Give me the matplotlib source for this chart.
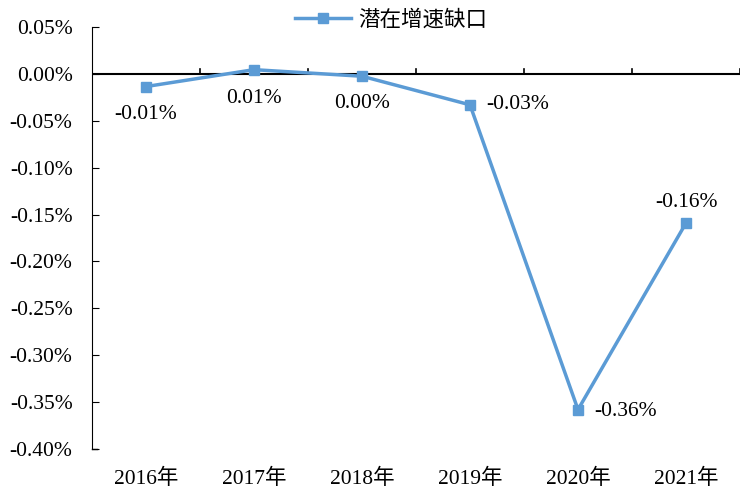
import matplotlib.pyplot as plt
from matplotlib.ticker import FuncFormatter

years = ['2016年', '2017年', '2018年', '2019年', '2020年', '2021年']
gap = [-0.0135, 0.0045, -0.0025, -0.033, -0.358, -0.159]
labels = ['-0.01%', '0.01%', '0.00%', '-0.03%', '-0.36%', '-0.16%']
# label placement: offset in points and alignment
offsets = [(0, -13, 'center', 'top'), (0, -14, 'center', 'top'), (0, -13, 'center', 'top'),
           (12, 0, 'left', 'center'), (12, -1, 'left', 'center'), (0, 8, 'center', 'bottom')]

serif = ['Liberation Serif', 'Noto Sans CJK SC']
color = '#5B9BD5'
fs = 15.5

fig = plt.figure(figsize=(7.52, 5.0), dpi=100)
ax = fig.add_axes([92 / 752, 51 / 500, 648 / 752, 422 / 500])

x = list(range(len(years)))
ax.plot(x, gap, color=color, lw=2.5, marker='s', ms=7, label='潜在增速缺口')
for i, (v, t) in enumerate(zip(gap, labels)):
    dx, dy, ha, va = offsets[i]
    ax.annotate(t, (i, v), xytext=(dx, dy), textcoords='offset points',
                ha=ha, va=va, fontsize=fs, family=serif)

ax.set_xlim(-0.5, 5.5)
ax.set_ylim(-0.40, 0.05)
ax.set_yticks([0.05 - 0.05 * k for k in range(10)])
ax.yaxis.set_major_formatter(FuncFormatter(lambda v, p: '%.2f%%' % v))
ax.tick_params(axis='y', direction='in', length=5, labelsize=fs, pad=14)
for lab in ax.get_yticklabels():
    lab.set_family(serif)

# x axis crosses at zero, labels at bottom
ax.spines['top'].set_visible(False)
ax.spines['right'].set_visible(False)
ax.spines['bottom'].set_visible(False)
ax.axhline(0, color='black', lw=1.5, zorder=1)
for b in range(7):
    ax.plot([b - 0.5, b - 0.5], [0, 0.005], color='black', lw=1.2, zorder=1)
ax.set_xticks(x)
ax.set_xticklabels(years)
ax.tick_params(axis='x', length=0, labelsize=fs, pad=14)
for lab in ax.get_xticklabels():
    lab.set_family(serif)
ax.plot([-0.5, -0.45], [-0.40, -0.40], color='black', lw=1, clip_on=False)

leg = ax.legend(loc='center', bbox_to_anchor=(391 / 752, 1 - 20 / 500),
                bbox_transform=fig.transFigure, frameon=False,
                prop={'family': ['Noto Sans CJK SC'], 'size': fs, 'weight': 'light'},
                handlelength=2.6, handletextpad=0.3)

fig.savefig('out.png', dpi=100)
